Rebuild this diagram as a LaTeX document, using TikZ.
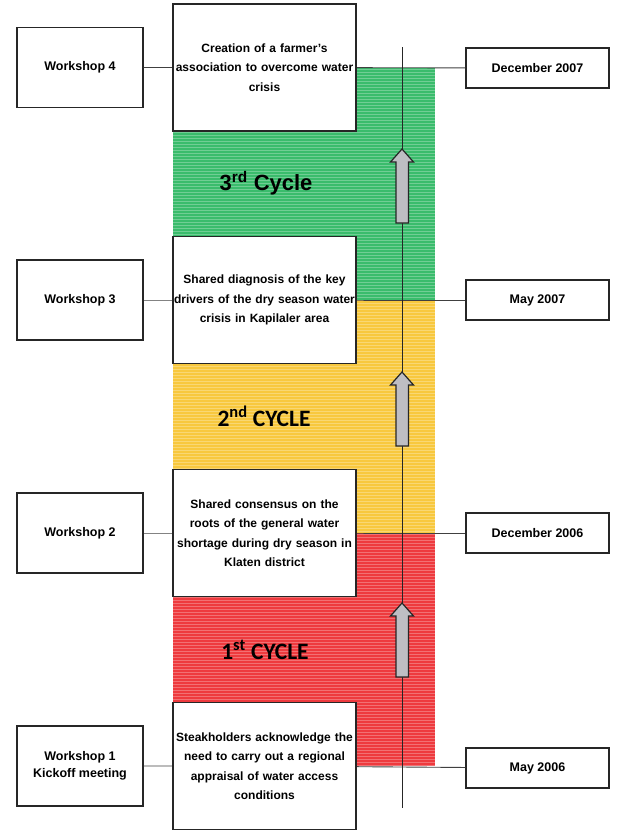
\documentclass[tikz,border=0pt]{standalone}
\usepackage{fontspec}
\setmainfont{Liberation Sans}
\newfontfamily\calfont{Carlito}
\definecolor{gband}{RGB}{58,188,108}
\definecolor{yband}{RGB}{248,200,62}
\definecolor{rband}{RGB}{238,58,62}
\definecolor{arrowgray}{RGB}{190,190,195}
\tikzset{
  box/.style={draw=black!85, line width=1.3pt, fill=white, inner sep=0pt, align=center, font=\fontsize{12}{19.5}\selectfont\bfseries},
  midbox/.style={box, minimum width=183pt, minimum height=127pt, text width=182pt},
  leftbox/.style={box, minimum width=126pt, minimum height=80pt, font=\fontsize{12.5}{19.5}\selectfont\bfseries},
  rightbox/.style={box, minimum width=143pt, minimum height=40pt, font=\fontsize{12.5}{19.5}\selectfont\bfseries},
  conn/.style={draw=black!75, line width=0.9pt},
  cyclelabel/.style={font=\fontsize{22}{26}\selectfont\bfseries, inner sep=0pt},
  cyclelabelb/.style={font=\calfont\fontsize{23.5}{26}\selectfont\bfseries, inner sep=0pt},
  uparrow/.style={draw=black!85, line width=1.2pt, fill=arrowgray, line join=miter}
}
\begin{document}
\begin{tikzpicture}[x=1pt,y=-1pt]
\useasboundingbox (0,0) rectangle (616,830);
% coloured bands
\fill[gband] (173,68) rectangle (435,300);
\fill[yband] (173,300) rectangle (435,533);
\fill[rband] (173,533) rectangle (435,766);
\foreach \yy in {69.5,72.5,...,766} {
  \draw[white, opacity=0.28, line width=0.7pt] (173,\yy) -- (435,\yy);
}
% boxes
\node[leftbox] (W4) at (80,67.5) {Workshop 4};
\node[leftbox] (W3) at (80,300) {Workshop 3};
\node[leftbox] (W2) at (80,533) {Workshop 2};
\node[leftbox] (W1) at (80,766) {Workshop 1\\[-3pt]Kickoff meeting};
\node[rightbox] (D4) at (537.5,68) {December 2007};
\node[rightbox] (D3) at (537.5,300) {May 2007};
\node[rightbox] (D2) at (537.5,533) {December 2006};
\node[rightbox] (D1) at (537.5,768) {May 2006};
% connectors
\draw[conn] (W4) -- (264.5,67.5) -- (D4);
\draw[conn] (W3) -- (264.5,300) -- (D3);
\draw[conn] (W2) -- (264.5,533) -- (D2);
\draw[conn] (W1) -- (264.5,766) -- (D1);
% timeline
\coordinate (tTop) at (402,47);
\coordinate (tBot) at (402,808);
\draw[draw=black!85, line width=1pt] (tTop) -- (tBot);
% arrows
\foreach \ya in {149,372,603} {
  \draw[uparrow] (402,\ya) -- (413.5,\ya+13) -- (408.5,\ya+13) -- (408.5,\ya+74)
     -- (396,\ya+74) -- (396,\ya+13) -- (390.5,\ya+13) -- cycle;
}
% middle boxes
\node[midbox] (M4) at (264.5,67.5) {Creation of a farmer's\\association to overcome water\\crisis};
\node[midbox] (M3) at (264.5,300) {Shared diagnosis of the key\\drivers of the dry season water\\crisis in Kapilaler area};
\node[midbox] (M2) at (264.5,533) {Shared consensus on the\\roots of the general water\\shortage during dry season in\\Klaten district};
\node[midbox] (M1) at (264.5,766) {Steakholders acknowledge the\\need to carry out a regional\\appraisal of water access\\conditions};
% cycle labels
\node[cyclelabel] (C3) at (266,183) {3\textsuperscript{rd} Cycle};
\node[cyclelabelb] (C2) at (264,416) {2\textsuperscript{nd} CYCLE};
\node[cyclelabelb] (C1) at (265,650) {1\textsuperscript{st} CYCLE};
\end{tikzpicture}
\end{document}
